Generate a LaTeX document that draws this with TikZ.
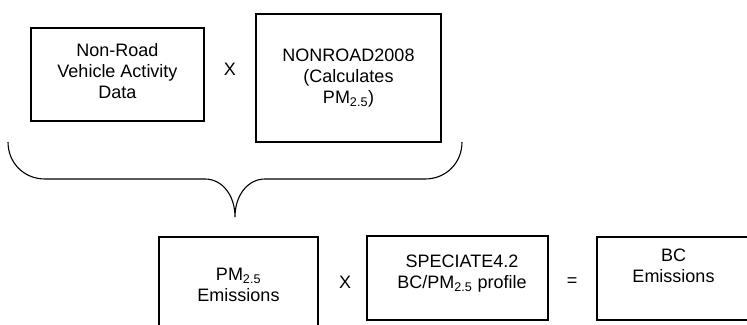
\documentclass[tikz,border=0pt]{standalone}
\usepackage{fontspec}
\setmainfont{Liberation Sans}
\begin{document}
\begin{tikzpicture}[x=1pt,y=-1pt,
  box/.style={draw,line width=1.1pt,rectangle,inner sep=0pt},
  txt/.style={align=center,inner sep=0pt,font=\fontsize{18}{21}\selectfont},
  brace/.style={draw,line width=1.1pt}]
\useasboundingbox (0,0) rectangle (747,324);
% boxes
\node[box,minimum width=173pt,minimum height=93pt] (b1) at (117.5,74.5) {};
\node[box,minimum width=185pt,minimum height=128pt] (b2) at (348.5,78) {};
\node[box,minimum width=159pt,minimum height=110pt] (b3) at (238.5,292) {};
\node[box,minimum width=181pt,minimum height=84pt] (b4) at (457.5,278) {};
\node[box,minimum width=153pt,minimum height=83pt] (b5) at (673.5,278.5) {};
% texts
\node[txt] (t1) at (117.5,71.5) {Non-Road\\Vehicle Activity\\Data};
\node[txt] (t2) at (348.5,78) {NONROAD2008\\(Calculates\\PM\textsubscript{2.5})};
\node[txt] (t3) at (238.5,285) {PM\textsubscript{2.5}\\Emissions};
\node[txt] (t4) at (462,273.5) {SPECIATE4.2\\BC/PM\textsubscript{2.5} profile};
\node[txt] (t5) at (673.5,265.5) {BC\\Emissions};
% operators
\node[txt] (x1) at (230,69) {X};
\node[txt] (x2) at (345,282) {X};
\node[txt] (eq) at (572,282) {=};
% brace
\coordinate (bl) at (8,142);
\coordinate (br) at (462,142);
\coordinate (tip) at (235,217);
\path[brace] (bl) .. controls (8,163) and (24,179) .. (45,179)
  -- (205,179) .. controls (222,179) and (235,195) .. (tip)
  .. controls (235,195) and (248,179) .. (265,179)
  -- (425,179) .. controls (446,179) and (462,163) .. (br);
\end{tikzpicture}
\end{document}
